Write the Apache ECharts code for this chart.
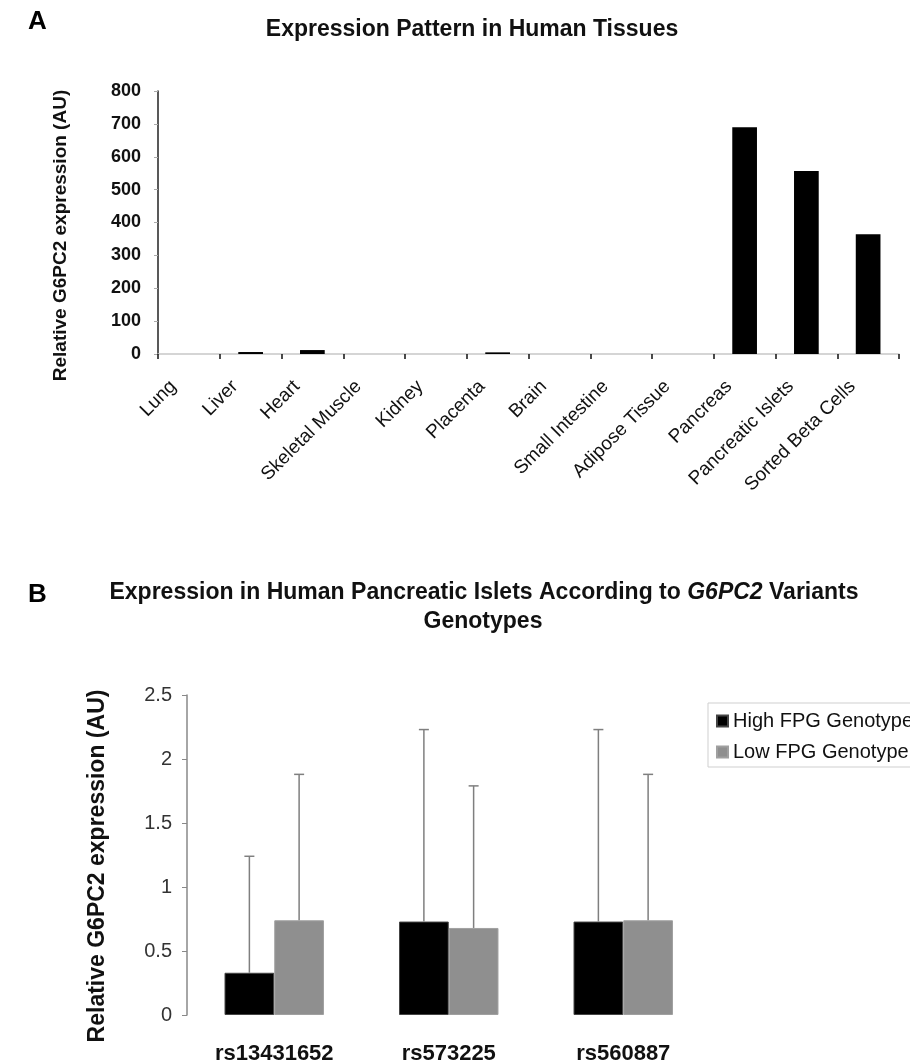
<!DOCTYPE html>
<html>
<head>
<meta charset="utf-8">
<script src="https://cdn.jsdelivr.net/npm/echarts@6/dist/echarts.min.js"></script>
<style>
html,body{margin:0;padding:0;background:#fff;}
#chart{width:910px;height:1064px;}
</style>
</head>
<body>
<div id="chart"></div>
<script>
// ---- Panel A data ----
const tissues = ['Lung', 'Liver', 'Heart', 'Skeletal Muscle', 'Kidney', 'Placenta', 'Brain',
  'Small Intestine', 'Adipose Tissue', 'Pancreas', 'Pancreatic Islets', 'Sorted Beta Cells'];
const tissueExpression = [0, 6, 12, 0, 0, 5, 0, 0, 0, 690, 557, 364];
const tissueTicks = [0, 100, 200, 300, 400, 500, 600, 700, 800];

// ---- Panel B data ----
const variants = ['rs13431652', 'rs573225', 'rs560887'];
const highFPG = [0.33, 0.73, 0.73];
const lowFPG = [0.74, 0.68, 0.74];
const highFPGError = [0.91, 1.50, 1.50];
const lowFPGError = [1.14, 1.11, 1.14];
const isletTicks = [0, 0.5, 1, 1.5, 2, 2.5];

const FONT = '"Liberation Sans", Arial, sans-serif';
const BAR_GAP_B = 0.43;

function errorSeries(name, means, errs, sign) {
  return {
    type: 'custom',
    name: name + ' error',
    xAxisIndex: 1, yAxisIndex: 1,
    z: 5,
    silent: true,
    encode: { x: 0, y: [1, 2] },
    data: means.map((m, i) => [i, m, m + errs[i]]),
    renderItem: function (params, api) {
      const i = api.value(0);
      const base = api.coord([i, api.value(1)]);
      const top = api.coord([i, api.value(2)]);
      const band = api.size([1, 0])[0];
      const bw = band * (1 - BAR_GAP_B) / 2;
      const x = base[0] + sign * bw / 2;
      const st = { stroke: '#7f7f7f', lineWidth: 1.5 };
      return {
        type: 'group',
        children: [
          { type: 'line', shape: { x1: x, y1: base[1], x2: x, y2: top[1] }, style: st },
          { type: 'line', shape: { x1: x - 5, y1: top[1], x2: x + 5, y2: top[1] }, style: st }
        ]
      };
    }
  };
}

const chart = echarts.init(document.getElementById('chart'), null, { renderer: 'canvas' });
chart.setOption({
  backgroundColor: '#fff',
  animation: false,
  textStyle: { fontFamily: FONT },
  graphic: [
    { type: 'text', left: 28, top: 9, style: { text: 'A', fontSize: 26, fontWeight: 'bold', fontFamily: FONT, fill: '#000' } },
    { type: 'text', x: 472, y: 30, style: { text: 'Expression Pattern in Human Tissues', fontSize: 23, fontWeight: 'bold', fontFamily: FONT, fill: '#111', align: 'center', verticalAlign: 'middle' } },
    { type: 'text', left: 28, top: 582, style: { text: 'B', fontSize: 26, fontWeight: 'bold', fontFamily: FONT, fill: '#000' } },
    { type: 'text', x: 484, y: 593, style: {
        text: '{n|Expression in Human Pancreatic Islets According to }{i|G6PC2}{n| Variants}',
        align: 'center', verticalAlign: 'middle',
        rich: {
          n: { fontSize: 23, fontWeight: 'bold', fontFamily: FONT, fill: '#111' },
          i: { fontSize: 23, fontWeight: 'bold', fontStyle: 'italic', fontFamily: FONT, fill: '#111' }
        }
      } },
    { type: 'text', x: 483, y: 622, style: { text: 'Genotypes', fontSize: 23, fontWeight: 'bold', fontFamily: FONT, fill: '#111', align: 'center', verticalAlign: 'middle' } }
  ],
  legend: {
    data: ['High FPG Genotype', 'Low FPG Genotype'],
    orient: 'vertical',
    left: 708, top: 703,
    padding: [8, 8, 5, 8],
    itemGap: 11,
    itemWidth: 11, itemHeight: 11,
    icon: 'rect',
    borderColor: '#cfcfcf', borderWidth: 1,
    selectedMode: false,
    textStyle: { fontSize: 20, color: '#111', fontFamily: FONT }
  },
  grid: [
    { left: 158, top: 91, width: 741, height: 263, outerBoundsMode: 'none', containLabel: false },
    { left: 187, top: 695, width: 523.5, height: 320, outerBoundsMode: 'none', containLabel: false }
  ],
  xAxis: [
    {
      type: 'category', gridIndex: 0, data: tissues,
      axisLine: { show: true, lineStyle: { color: '#c8c8c8', width: 1.5 } },
      axisTick: { show: true, length: 5, lineStyle: { color: '#111', width: 1.5 }, alignWithLabel: false },
      axisLabel: { interval: 0, rotate: 45, fontSize: 19, color: '#111', margin: 14, padding: [0, 22, 0, 0], fontFamily: FONT }
    },
    {
      type: 'category', gridIndex: 1, data: variants,
      axisLine: { show: false },
      axisTick: { show: false },
      axisLabel: { interval: 0, fontSize: 22, fontWeight: 'bold', color: '#111', margin: 28, fontFamily: FONT }
    }
  ],
  yAxis: [
    {
      type: 'value', gridIndex: 0, min: tissueTicks[0], max: tissueTicks[tissueTicks.length - 1], interval: 100,
      name: 'Relative G6PC2 expression (AU)', nameLocation: 'middle', nameRotate: 90, nameGap: 88,
      nameTextStyle: { fontSize: 19, fontWeight: 'bold', color: '#111', fontFamily: FONT, padding: [0, 26, 0, 0] },
      splitLine: { show: false },
      axisLine: { show: true, lineStyle: { color: '#222', width: 1.5 } },
      axisTick: { show: true, length: 4, lineStyle: { color: '#aaa' } },
      axisLabel: { fontSize: 18, fontWeight: 'bold', color: '#111', margin: 17, fontFamily: FONT }
    },
    {
      type: 'value', gridIndex: 1, min: isletTicks[0], max: isletTicks[isletTicks.length - 1], interval: 0.5,
      name: 'Relative G6PC2 expression (AU)', nameLocation: 'middle', nameRotate: 90, nameGap: 78,
      nameTextStyle: { fontSize: 23, fontWeight: 'bold', color: '#111', fontFamily: FONT, padding: [0, 22, 0, 0] },
      splitLine: { show: false },
      axisLine: { show: true, lineStyle: { color: '#888', width: 1.5 } },
      axisTick: { show: true, length: 5, lineStyle: { color: '#888' } },
      axisLabel: { fontSize: 20, color: '#333', margin: 15, fontFamily: FONT }
    }
  ],
  series: [
    {
      type: 'bar', name: 'Tissue expression', xAxisIndex: 0, yAxisIndex: 0,
      data: tissueExpression, barWidth: '40%',
      itemStyle: { color: '#000' }
    },
    {
      type: 'bar', name: 'High FPG Genotype', xAxisIndex: 1, yAxisIndex: 1,
      data: highFPG, barGap: 0, barCategoryGap: (BAR_GAP_B * 100) + '%',
      itemStyle: { color: '#000', borderColor: '#444', borderWidth: 1 }
    },
    {
      type: 'bar', name: 'Low FPG Genotype', xAxisIndex: 1, yAxisIndex: 1,
      data: lowFPG, barGap: 0, barCategoryGap: (BAR_GAP_B * 100) + '%',
      itemStyle: { color: '#8f8f8f', borderColor: '#a0a0a0', borderWidth: 1 }
    },
    errorSeries('High FPG Genotype', highFPG, highFPGError, -1),
    errorSeries('Low FPG Genotype', lowFPG, lowFPGError, 1)
  ]
});
</script>
</body>
</html>
